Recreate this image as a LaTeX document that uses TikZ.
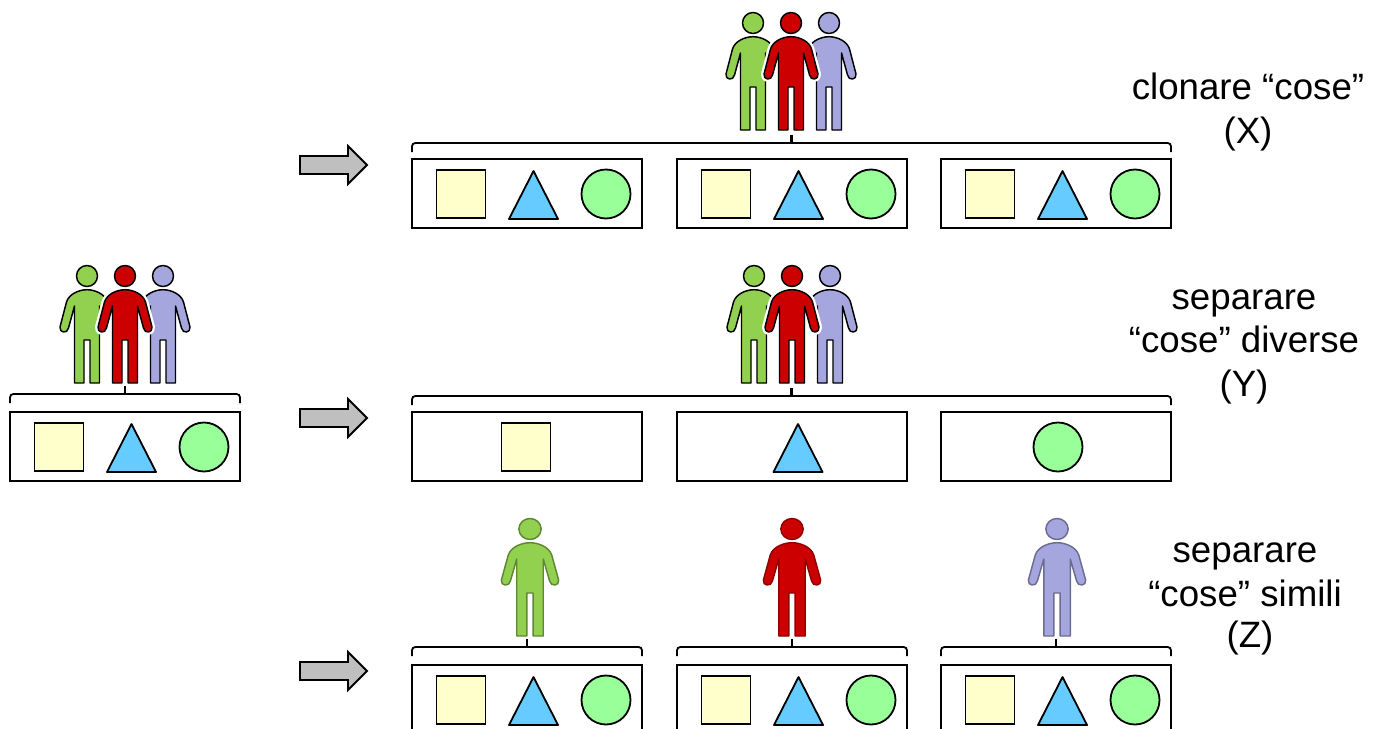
\documentclass[tikz,border=0pt]{standalone}
\usepackage{fontspec}
\setmainfont{Liberation Sans}
\usepackage{tikz}
\definecolor{giallino}{HTML}{FFFFCC}
\definecolor{azzurro}{HTML}{66CCFF}
\definecolor{verdino}{HTML}{99FF99}
\definecolor{verde}{HTML}{92D050}
\definecolor{rosso}{HTML}{CC0000}
\definecolor{viola}{HTML}{A6A6DF}
\definecolor{grigio}{HTML}{BFBFBF}
\tikzset{
	linea/.style = {draw=black, line width=1.35pt},
	etichetta/.style = {align=center, font=\fontsize{27.5}{32.6}\selectfont}
}
\newcommand{\sagoma}{(-12.5,0) -- (-12.5,-77) -- (-18.5,-55)
	.. controls (-19.5,-49) and (-28,-50) .. (-27,-56) -- (-20.5,-81)
	.. controls (-18,-89) and (-8,-93.3) .. (0,-93.3)
	.. controls (8,-93.3) and (18,-89) .. (20.5,-81)
	-- (27,-56) .. controls (28,-50) and (19.5,-49) .. (18.5,-55)
	-- (12.5,-77) -- (12.5,0) -- (3,0) -- (3,-43) -- (-3,-43) -- (-3,0) -- cycle
	(0,-107) circle [radius=10.5]}
\newcommand{\persona}[2]{\draw[fill=#1, draw=#2, line width=1.1pt, line join=round] \sagoma;}
\newcommand{\alone}{\draw[draw=white, line width=4.5pt, line join=round] \sagoma;
	\fill[white] (-12.5,-77) -- (-19,-50) -- (-12.5,-45) -- cycle;
	\fill[white] (12.5,-77) -- (19,-50) -- (12.5,-45) -- cycle;}
\newcommand{\gruppo}{\begin{scope}[xshift = -28.5pt]
		\persona{verde}{black}
	\end{scope}
	\begin{scope}[xshift = 28.5pt]
		\persona{viola}{black}
	\end{scope}
	\alone
	\persona{rosso}{black}}
\newcommand{\quadrato}{\draw[linea, fill=giallino] (0,0) rectangle (49,48);}
\newcommand{\triangolo}{\draw[linea, fill=azzurro, line join=round] (-24.5,48) -- (0,0) -- (24.5,48) -- cycle;}
\newcommand{\cerchio}{\draw[linea, fill=verdino] (0,0) circle [radius=24.5];}
\newcommand{\cesto}{\draw[linea] (0,0) rectangle (230,69);}
\newcommand{\treforme}{\cesto
	\begin{scope}[shift = {(24.5,11)}]
		\quadrato
	\end{scope}
	\begin{scope}[shift = {(121.5,12)}]
		\triangolo
	\end{scope}
	\begin{scope}[shift = {(194,35)}]
		\cerchio
	\end{scope}}
\newcommand{\freccia}{\draw[linea, fill=grigio, line join=miter] (0,-9) -- (48,-9) -- (48,-19) -- (67,0) -- (48,19) -- (48,9) -- (0,9) -- cycle;}
\newcommand{\parentesi}[2]{\draw[linea, rounded corners=2.5pt] (0,9) -- (0,0) -- (#1,0) -- (#1,9);
	\draw[linea, line width=1.7pt] (#2,0) -- (#2,-8);}

\begin{document}
\begin{tikzpicture}[x=0.75pt, y=-0.75pt]

	\clip (0,0) rectangle (1376,728);

	% sinistra
	\begin{scope}[shift = {(125,383)}]
		\gruppo
	\end{scope}
	\begin{scope}[shift = {(10,394)}]
		\parentesi{230}{115}
	\end{scope}
	\begin{scope}[shift = {(10,412)}]
		\treforme
	\end{scope}

	% frecce
	\begin{scope}[shift = {(300,165)}]
		\freccia
	\end{scope}
	\begin{scope}[shift = {(300,418)}]
		\freccia
	\end{scope}
	\begin{scope}[shift = {(300,671)}]
		\freccia
	\end{scope}

	% X
	\begin{scope}[shift = {(791,130)}]
		\gruppo
	\end{scope}
	\begin{scope}[shift = {(412,143)}]
		\parentesi{759}{379.5}
	\end{scope}
	\begin{scope}[shift = {(412,159)}]
		\treforme
	\end{scope}
	\begin{scope}[shift = {(677,159)}]
		\treforme
	\end{scope}
	\begin{scope}[shift = {(941,159)}]
		\treforme
	\end{scope}

	% Y
	\begin{scope}[shift = {(792,383)}]
		\gruppo
	\end{scope}
	\begin{scope}[shift = {(412,396)}]
		\parentesi{759}{379.5}
	\end{scope}
	\begin{scope}[shift = {(412,412)}]
		\cesto
	\end{scope}
	\begin{scope}[shift = {(677,412)}]
		\cesto
	\end{scope}
	\begin{scope}[shift = {(941,412)}]
		\cesto
	\end{scope}
	\begin{scope}[shift = {(501.5,423)}]
		\quadrato
	\end{scope}
	\begin{scope}[shift = {(798,424)}]
		\triangolo
	\end{scope}
	\begin{scope}[shift = {(1058,447)}]
		\cerchio
	\end{scope}

	% Z
	\begin{scope}[shift = {(530,636)}, xscale = 1.06]
		\persona{verde}{verde!65!black}
	\end{scope}
	\begin{scope}[shift = {(792,636)}, xscale = 1.06]
		\persona{rosso}{rosso!70!black}
	\end{scope}
	\begin{scope}[shift = {(1057,636)}, xscale = 1.06]
		\persona{viola}{viola!65!black}
	\end{scope}
	\begin{scope}[shift = {(412,647)}]
		\parentesi{230}{115}
	\end{scope}
	\begin{scope}[shift = {(677,647)}]
		\parentesi{230}{115}
	\end{scope}
	\begin{scope}[shift = {(941,647)}]
		\parentesi{230}{115}
	\end{scope}
	\begin{scope}[shift = {(412,665)}]
		\treforme
	\end{scope}
	\begin{scope}[shift = {(677,665)}]
		\treforme
	\end{scope}
	\begin{scope}[shift = {(941,665)}]
		\treforme
	\end{scope}

	% testi
	\node[etichetta] (clonare) at (1248,112) {clonare “cose”\\(X)};
	\node[etichetta] (diverse) at (1244,346.5) {separare\\“cose” diverse\\(Y)};
	\node[etichetta] (simili) at (1245,575) {separare\\“cose” simili};
	\node[etichetta] (zeta) at (1250,638) {(Z)};

\end{tikzpicture}
\end{document}
